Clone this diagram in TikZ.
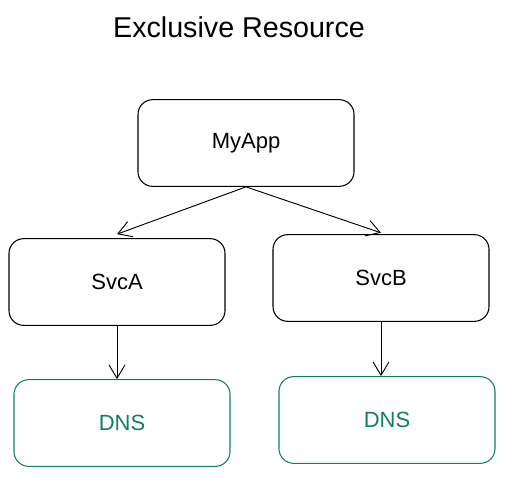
\documentclass[tikz,border=0pt]{standalone}
\usepackage{fontspec}
\setmainfont{Liberation Sans}
\usetikzlibrary{arrows.meta}
\definecolor{dnsgreen}{RGB}{18,128,88}
\tikzset{
  svcbox/.style={draw,rounded corners=11pt,line width=0.8pt,minimum width=162pt,minimum height=65pt,font=\fontsize{16.5}{19}\selectfont},
  dnsbox/.style={svcbox,draw=dnsgreen,text=dnsgreen},
  link/.style={-{Straight Barb[length=10pt,width=12pt]},line width=0.7pt}
}
\begin{document}
\begin{tikzpicture}[x=0.75pt,y=-0.75pt]
	\useasboundingbox (0,0) rectangle (505,479);
	\node (title) at (239,27) {\fontsize{21.5}{25}\selectfont Exclusive Resource};
	\node[svcbox] (myapp) at (246,143) {MyApp};
	\node[svcbox] (svca) at (117,282) {SvcA};
	\node[svcbox] (svcb) at (381,278) {SvcB};
	\node[dnsbox] (dnsa) at (122,423) {DNS};
	\node[dnsbox] (dnsb) at (387,420) {DNS};
	\draw[link] (myapp.south) -- ([yshift=3pt]svca.north);
	\draw[link] (myapp.south) -- ([yshift=1pt]svcb.north);
	\draw[link] (svca.south) -- (svca.south |- dnsa.north);
	\draw[link] (svcb.south) -- (svcb.south |- dnsb.north);
\end{tikzpicture}
\end{document}
